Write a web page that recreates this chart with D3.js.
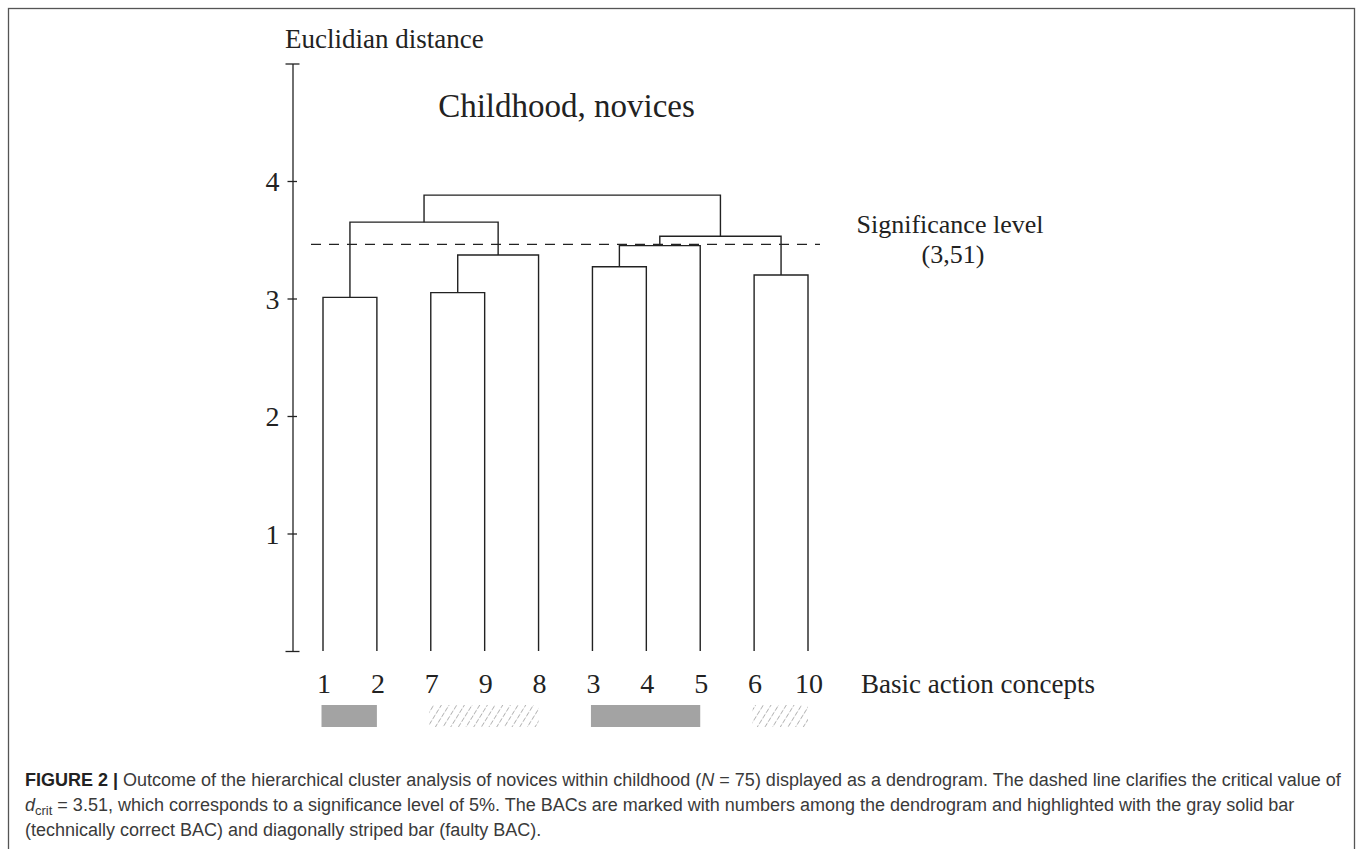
<!DOCTYPE html>
<html>
<head>
<meta charset="utf-8">
<script src="https://cdn.jsdelivr.net/npm/d3@7"></script>
<style>
  html, body { margin: 0; padding: 0; background: #fff; }
  svg { display: block; }
</style>
</head>
<body>
<script>
// ---------- DATA ----------
const leafOrder = ["1", "2", "7", "9", "8", "3", "4", "5", "6", "10"];
const mergeIds     = ["m12", "m79", "m798", "mA", "m34", "m345", "m610", "mB", "mTop"];
const mergeLeft    = ["1",   "7",   "m79",  "m12", "3",   "m34",  "6",    "m345", "mA"];
const mergeRight   = ["2",   "9",   "8",    "m798","4",   "5",    "10",   "m610", "mB"];
const mergeHeights = [3.01,  3.05,  3.37,   3.65,  3.27,  3.45,   3.20,   3.53,   3.88];
const yTicks = [0, 1, 2, 3, 4, 5];
const yTickLabels = ["", "1", "2", "3", "4", ""];
const sigLevelDrawn = 3.46;
const sigLabel = ["Significance level", "(3,51)"];
const barFrom  = ["1", "7", "3", "6"];
const barTo    = ["2", "8", "5", "10"];
const barType  = ["solid", "hatch", "solid", "hatch"];

// ---------- SETUP ----------
const W = 1363, H = 849;
const svg = d3.select("body").append("svg").attr("width", W).attr("height", H);
const serif = "'Liberation Serif', 'DejaVu Serif', serif";
const sans = "'Liberation Sans', Arial, sans-serif";
const ink = "#222";

// frame
svg.append("rect").attr("x", 8.5).attr("y", 8.5).attr("width", 1346).attr("height", 900)
  .attr("fill", "none").attr("stroke", "#555").attr("stroke-width", 1.3);

const x = d3.scalePoint().domain(leafOrder).range([323, 808]);
const y = d3.scaleLinear().domain([0, 5]).range([651, 63.5]);
const axisX = 292.5;

// hatch pattern
const defs = svg.append("defs");
const pat = defs.append("pattern").attr("id", "hatch").attr("patternUnits", "userSpaceOnUse")
  .attr("width", 6.5).attr("height", 6.5).attr("patternTransform", "rotate(32)");
pat.append("line").attr("x1", 0).attr("y1", 0).attr("x2", 0).attr("y2", 6.5)
  .attr("stroke", "#808080").attr("stroke-width", 1.1).attr("stroke-dasharray", "3.5,1.5");

// ---------- AXIS ----------
const axis = d3.axisLeft(y).tickValues(yTicks).tickSize(0).tickFormat((d, i) => yTickLabels[i]);
const gAxis = svg.append("g").attr("transform", `translate(${axisX},0)`).call(axis);
gAxis.select(".domain").attr("stroke", ink).attr("stroke-width", 1.3);
gAxis.selectAll(".tick line")
  .attr("x1", (d, i) => (i === 0 || i === yTicks.length - 1) ? -7 : -5)
  .attr("x2", (d, i) => (i === 0 || i === yTicks.length - 1) ? 7 : 4.5)
  .attr("stroke", ink).attr("stroke-width", 1.3);
gAxis.selectAll(".tick text").attr("x", -13).attr("dy", "0.34em")
  .attr("font-family", serif).attr("font-size", 28).attr("fill", ink);

svg.append("text").attr("x", 285).attr("y", 48).text("Euclidian distance")
  .attr("font-family", serif).attr("font-size", 27).attr("fill", ink);

svg.append("text").attr("x", 566.5).attr("y", 117).attr("text-anchor", "middle").text("Childhood, novices")
  .attr("font-family", serif).attr("font-size", 33).attr("fill", ink);

// ---------- DENDROGRAM ----------
const pos = {};
leafOrder.forEach(l => { pos[l] = { x: x(l), h: 0 }; });
const links = [];
mergeIds.forEach((id, i) => {
  const a = pos[mergeLeft[i]], b = pos[mergeRight[i]];
  const h = mergeHeights[i];
  pos[id] = { x: (a.x + b.x) / 2, h: h };
  links.push({ ax: a.x, ah: a.h, bx: b.x, bh: b.h, h: h });
});
const g = svg.append("g").attr("fill", "none").attr("stroke", ink).attr("stroke-width", 1.4);
g.selectAll("path").data(links).join("path")
  .attr("d", d => `M${d.ax},${y(d.ah)}V${y(d.h)}H${d.bx}V${y(d.bh)}`);

// significance line
svg.append("line").attr("x1", 311).attr("x2", 820).attr("y1", y(sigLevelDrawn)).attr("y2", y(sigLevelDrawn))
  .attr("stroke", ink).attr("stroke-width", 1.2).attr("stroke-dasharray", "10,8");
svg.append("text").attr("x", 950).attr("y", 233).attr("text-anchor", "middle").text(sigLabel[0])
  .attr("font-family", serif).attr("font-size", 26).attr("fill", ink);
svg.append("text").attr("x", 953).attr("y", 263).attr("text-anchor", "middle").text(sigLabel[1])
  .attr("font-family", serif).attr("font-size", 26).attr("fill", ink);

// leaf labels
svg.append("g").selectAll("text").data(leafOrder).join("text")
  .attr("x", d => x(d) + 1).attr("y", 693).attr("text-anchor", "middle").text(d => d)
  .attr("font-family", serif).attr("font-size", 28).attr("fill", ink);
svg.append("text").attr("x", 861).attr("y", 693).text("Basic action concepts")
  .attr("font-family", serif).attr("font-size", 27).attr("fill", ink);

// bars
svg.append("g").selectAll("rect").data(barFrom.map((f, i) => ({ f, t: barTo[i], type: barType[i] })))
  .join("rect")
  .attr("x", d => x(d.f) - 1.5).attr("width", d => x(d.t) - x(d.f) + 1.5)
  .attr("y", 705).attr("height", 22)
  .attr("fill", d => d.type === "solid" ? "#a3a3a3" : "url(#hatch)");

// ---------- CAPTION ----------
const cap = svg.append("g").attr("font-family", sans).attr("font-size", 18).attr("fill", "#3a3a3a");
const l1 = cap.append("text").attr("x", 25).attr("y", 786);
l1.append("tspan").attr("font-weight", "bold").attr("fill", "#222").text("FIGURE 2 | ");
l1.append("tspan").text("Outcome of the hierarchical cluster analysis of novices within childhood (");
l1.append("tspan").attr("font-style", "italic").text("N");
l1.append("tspan").text(" = 75) displayed as a dendrogram. The dashed line clarifies the critical value of");
const l2 = cap.append("text").attr("x", 25).attr("y", 811);
l2.append("tspan").attr("font-style", "italic").text("d");
l2.append("tspan").attr("font-size", 13).attr("dy", 4).text("crit");
l2.append("tspan").attr("dy", -4).text(" = 3.51, which corresponds to a significance level of 5%. The BACs are marked with numbers among the dendrogram and highlighted with the gray solid bar");
cap.append("text").attr("x", 25).attr("y", 836)
  .text("(technically correct BAC) and diagonally striped bar (faulty BAC).");
</script>
</body>
</html>
